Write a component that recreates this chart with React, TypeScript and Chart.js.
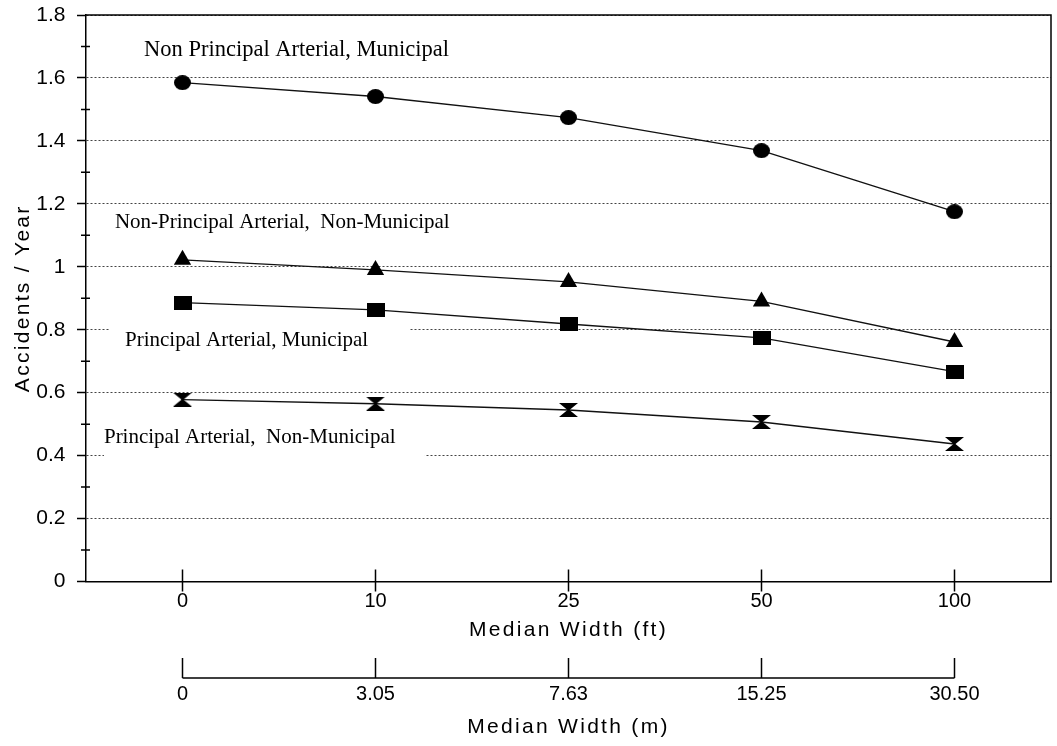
import React, { useEffect, useRef } from "react";
import { Chart, registerables } from "chart.js";

Chart.register(...registerables);

// ---- data ----
const widthFt = ["0", "10", "25", "50", "100"];
const widthM = ["0", "3.05", "7.63", "15.25", "30.50"];
const yTickLabels = ["0", "0.2", "0.4", "0.6", "0.8", "1", "1.2", "1.4", "1.6", "1.8"];

const nonPrincipalMunicipal = [1.585, 1.541, 1.474, 1.369, 1.175];
const nonPrincipalNonMunicipal = [1.022, 0.99, 0.952, 0.89, 0.761];
const principalMunicipal = [0.886, 0.863, 0.818, 0.774, 0.667];
const principalNonMunicipal = [0.578, 0.565, 0.545, 0.507, 0.437];

const seriesNames = [
  "Non Principal Arterial, Municipal",
  "Non-Principal Arterial,  Non-Municipal",
  "Principal Arterial, Municipal",
  "Principal Arterial,  Non-Municipal",
];

// annotation anchors in data units (category index, y value)
const labelAt = [-0.199, -0.35, -0.298, -0.407];
const labelValue = [1.67, 1.123, 0.748, 0.44];
const labelSize = [22.5, 21, 21, 21];
// white boxes behind labels (category index range, value range)
const masks = [
  { from: -0.376, to: 1.179, low: 0.78, high: 0.82 },
  { from: -0.407, to: 1.256, low: 0.38, high: 0.42 },
];

const SANS = '"Liberation Sans", Arial, Helvetica, sans-serif';
const SERIF = '"Liberation Serif", "Times New Roman", serif';

function marker(kind: string, w: number, h: number): HTMLCanvasElement {
  const c = document.createElement("canvas");
  c.width = w;
  c.height = h;
  const g = c.getContext("2d")!;
  g.fillStyle = "#000";
  g.beginPath();
  if (kind === "ellipse") {
    g.ellipse(w / 2, h / 2, w / 2, h / 2, 0, 0, Math.PI * 2);
  } else if (kind === "rect") {
    g.rect(0, 0, w, h);
  } else if (kind === "bowtie") {
    g.moveTo(0, 0);
    g.lineTo(w, 0);
    g.lineTo(w / 2 + 1, h / 2);
    g.lineTo(w, h);
    g.lineTo(0, h);
    g.lineTo(w / 2 - 1, h / 2);
    g.closePath();
  }
  g.fill();
  return c;
}

const zeroPad = (s: any) => {
  s.paddingTop = 0;
  s.paddingBottom = 0;
  s.paddingLeft = 0;
  s.paddingRight = 0;
};

const decor = {
  id: "decor",
  beforeDraw(chart: any) {
    chart.ctx.letterSpacing = "2.3px";
  },
  beforeDatasetsDraw(chart: any) {
    const ctx = chart.ctx;
    ctx.letterSpacing = "0px";
    const { x, y } = chart.scales;
    ctx.save();
    ctx.fillStyle = "#fff";
    masks.forEach((m) => {
      const x0 = x.getPixelForValue(m.from);
      const x1 = x.getPixelForValue(m.to);
      const y0 = y.getPixelForValue(m.high);
      const y1 = y.getPixelForValue(m.low);
      ctx.fillRect(x0, y0, x1 - x0, y1 - y0);
    });
    ctx.fillStyle = "#000";
    ctx.textAlign = "left";
    ctx.textBaseline = "alphabetic";
    seriesNames.forEach((t, i) => {
      ctx.font = `${labelSize[i]}px ${SERIF}`;
      ctx.fillText(t, x.getPixelForValue(labelAt[i]), y.getPixelForValue(labelValue[i]));
    });
    ctx.restore();
  },
  afterDraw(chart: any) {
    const ctx = chart.ctx;
    const { x, y, x2 } = chart.scales;
    const a = chart.chartArea;
    ctx.save();
    ctx.strokeStyle = "#000";
    ctx.lineWidth = 1.5;
    ctx.beginPath();
    ctx.moveTo(a.left, a.top);
    ctx.lineTo(a.right, a.top);
    ctx.lineTo(a.right, a.bottom);
    for (let i = 0; i < yTickLabels.length - 1; i++) {
      const v = (parseFloat(yTickLabels[i]) + parseFloat(yTickLabels[i + 1])) / 2;
      const py = y.getPixelForValue(v);
      ctx.moveTo(a.left - 5, py);
      ctx.lineTo(a.left + 4, py);
    }
    for (let i = 0; i < widthFt.length; i++) {
      const px = x.getPixelForTick(i);
      ctx.moveTo(px, a.bottom - 12);
      ctx.lineTo(px, a.bottom + 10);
    }
    const ly = x2.top + 26;
    ctx.moveTo(x2.getPixelForTick(0), ly);
    ctx.lineTo(x2.getPixelForTick(widthM.length - 1), ly);
    for (let i = 0; i < widthM.length; i++) {
      const px = x2.getPixelForTick(i);
      ctx.moveTo(px, ly - 20);
      ctx.lineTo(px, ly);
    }
    ctx.stroke();
    ctx.restore();
  },
};

export default function App() {
  const ref = useRef<HTMLCanvasElement>(null);

  useEffect(() => {
    const canvas = ref.current!;
    const ellipse = marker("ellipse", 17, 15);
    const rect = marker("rect", 18, 14);
    const bowtie = marker("bowtie", 19, 14);

    const common = {
      borderColor: "#111",
      backgroundColor: "#000",
      borderWidth: 1.4,
      pointBorderWidth: 0,
      pointBorderColor: "#000",
      pointBackgroundColor: "#000",
      tension: 0,
      fill: false,
    };

    const chart = new Chart(canvas, {
      type: "line",
      data: {
        labels: widthFt,
        datasets: [
          { ...common, label: seriesNames[0], data: nonPrincipalMunicipal, pointStyle: ellipse as any },
          { ...common, label: seriesNames[1], data: nonPrincipalNonMunicipal, pointStyle: "triangle", pointRadius: 10 },
          { ...common, label: seriesNames[2], data: principalMunicipal, pointStyle: rect as any },
          { ...common, label: seriesNames[3], data: principalNonMunicipal, pointStyle: bowtie as any },
        ],
      },
      options: {
        responsive: false,
        animation: false,
        devicePixelRatio: 1,
        layout: { autoPadding: false, padding: { left: 0, top: 15, right: 6, bottom: 0 } },
        plugins: {
          legend: { display: false },
          tooltip: { enabled: false },
        },
        scales: {
          x: {
            type: "category",
            position: "bottom",
            weight: 0,
            offset: true,
            grid: { display: false, drawTicks: false },
            border: { display: true, color: "#000", width: 1.5 },
            ticks: { padding: 8, color: "#000", font: { family: SANS, size: 20 }, z: 1, maxRotation: 0, autoSkip: false },
            title: {
              display: true,
              text: "Median Width (ft)",
              color: "#000",
              font: { family: SANS, size: 21 },
              padding: { top: 0, bottom: 8.9 },
            },
            afterFit: (s: any) => {
              s.height = 70.5;
              zeroPad(s);
            },
          },
          x2: {
            type: "category",
            position: "bottom",
            weight: 1,
            labels: widthM,
            offset: true,
            grid: { display: false, drawTicks: false },
            border: { display: false },
            ticks: { padding: 30.5, color: "#000", font: { family: SANS, size: 20 }, z: 1, maxRotation: 0, autoSkip: false },
            title: {
              display: true,
              text: "Median Width (m)",
              color: "#000",
              font: { family: SANS, size: 21 },
              padding: { top: 0, bottom: 5.9 },
            },
            afterFit: (s: any) => {
              s.height = 94;
              zeroPad(s);
            },
          },
          y: {
            type: "linear",
            min: 0,
            max: 1.8,
            ticks: {
              stepSize: 0.2,
              padding: 11.5,
              color: "#000",
              font: { family: SANS, size: 21 },
              z: 1,
              callback: (v: any) => {
                const l = yTickLabels.find((t) => Math.abs(parseFloat(t) - Number(v)) < 1e-6);
                return l ?? "";
              },
            },
            grid: {
              color: "#444",
              lineWidth: 1,
              tickColor: "#000",
              tickLength: 9,
              tickWidth: 1.5,
              tickBorderDash: [],
            },
            border: { display: true, color: "#000", width: 1.5, dash: [2, 2] },
            title: {
              display: true,
              text: "Accidents / Year",
              color: "#000",
              font: { family: SANS, size: 21 },
              padding: { top: 11, bottom: 0 },
            },
            afterFit: (s: any) => {
              s.width = 86;
              zeroPad(s);
            },
          },
        },
      } as any,
      plugins: [decor],
    });

    return () => chart.destroy();
  }, []);

  return (
    <div style={{ position: "absolute", left: 0, top: 0, width: 1057, height: 746, background: "#fff" }}>
      <canvas ref={ref} width={1057} height={746} style={{ display: "block" }} />
    </div>
  );
}
